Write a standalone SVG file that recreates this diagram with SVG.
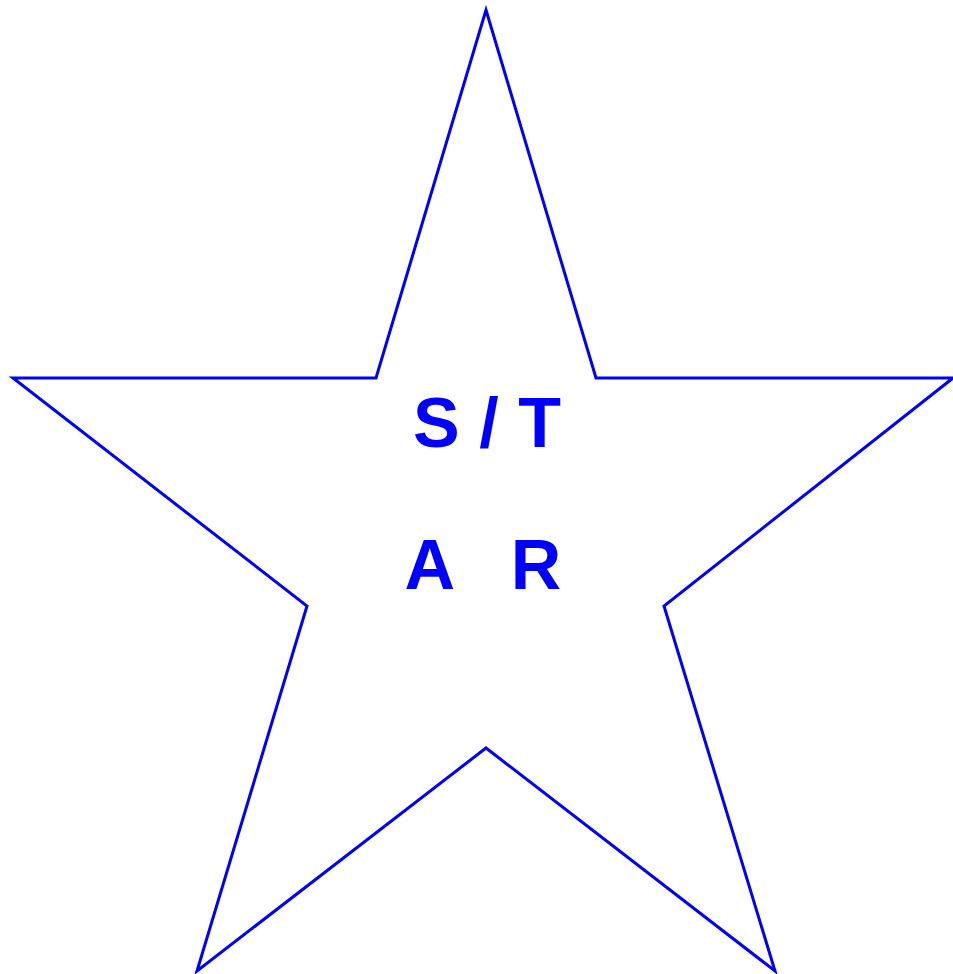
<svg xmlns="http://www.w3.org/2000/svg" width="953" height="974" viewBox="0 0 953 974">
<style>
.star{fill:none;stroke:#0000ff;stroke-width:3;stroke-linejoin:miter;stroke-miterlimit:20}
.lbl{font-family:"Liberation Sans",Arial,sans-serif;font-weight:bold;font-size:70px;fill:#0000ff;white-space:pre}
</style>
<g id="star">
<polygon class="star" points="486,10 596,378 953,378 664,606 775,971 486,748 197,971 307,606 13,378 376,378"/>
<text class="lbl" x="487" y="447" text-anchor="middle" xml:space="preserve">S / T</text>
<text class="lbl" x="483" y="589" text-anchor="middle" xml:space="preserve">A   R</text>
</g>
</svg>
